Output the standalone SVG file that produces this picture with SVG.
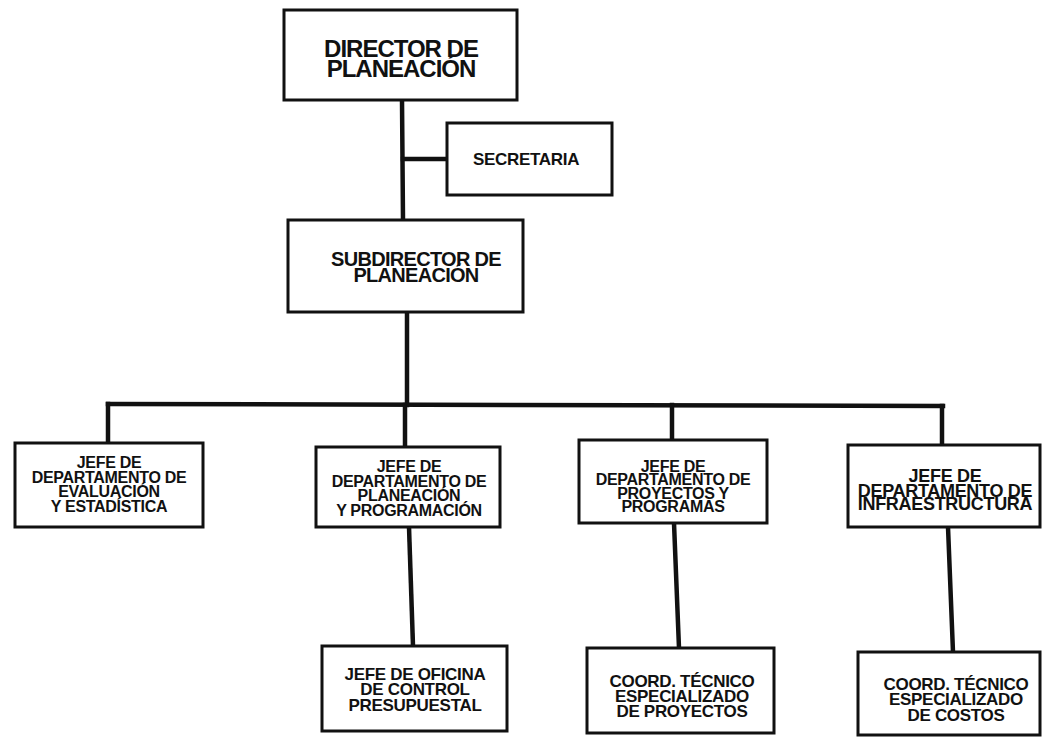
<svg xmlns="http://www.w3.org/2000/svg" width="1043" height="737" viewBox="0 0 1043 737">
<style>
.box{fill:#ffffff;stroke:#111111;stroke-width:3}
.ln{stroke:#111111;stroke-width:4.5;fill:none;stroke-linecap:square}
text{font-family:"Liberation Sans",Arial,sans-serif;font-weight:bold;fill:#111111;text-anchor:middle}
.t16{font-size:16px;letter-spacing:-0.3px}
.t17{font-size:17px;letter-spacing:-0.3px}
.t18{font-size:18px;letter-spacing:-0.3px}
</style>
<rect x="0" y="0" width="1043" height="737" fill="#ffffff"/>
<g id="connectors">
<line class="ln" x1="402" y1="100" x2="403" y2="220"/>
<line class="ln" x1="403" y1="159" x2="447" y2="159"/>
<line class="ln" x1="407" y1="312" x2="407" y2="405"/>
<line class="ln" x1="108" y1="404" x2="943" y2="406"/>
<line class="ln" x1="108" y1="404" x2="108" y2="443"/>
<line class="ln" x1="405" y1="405" x2="405" y2="447"/>
<line class="ln" x1="672" y1="405" x2="672" y2="440"/>
<line class="ln" x1="942" y1="406" x2="942" y2="445"/>
<line class="ln" x1="409" y1="527" x2="413" y2="646"/>
<line class="ln" x1="674" y1="523" x2="679" y2="648"/>
<line class="ln" x1="948" y1="527" x2="953" y2="652"/>
</g>
<g id="director">
<rect class="box" x="284" y="10" width="233" height="90"/>
<text x="401" y="57" style="font-size:24px;letter-spacing:-1px">DIRECTOR DE</text>
<text x="401" y="77" style="font-size:24px;letter-spacing:-1px">PLANEACIÓN</text>
</g>
<g id="secretaria">
<rect class="box" x="447" y="123" width="165" height="72"/>
<text class="t17" x="526" y="165">SECRETARIA</text>
</g>
<g id="subdirector">
<rect class="box" x="288" y="220" width="235" height="92"/>
<text x="416" y="266" style="font-size:20px;letter-spacing:-0.7px">SUBDIRECTOR DE</text>
<text x="416" y="282" style="font-size:20px;letter-spacing:-0.7px">PLANEACIÓN</text>
</g>
<g id="jefe-evaluacion">
<rect class="box" x="15" y="443" width="188" height="84"/>
<text class="t16" x="109" y="468">JEFE DE</text>
<text class="t16" x="109" y="482.5">DEPARTAMENTO DE</text>
<text class="t16" x="109" y="497">EVALUACIÓN</text>
<text class="t16" x="109" y="511.5">Y ESTADÍSTICA</text>
</g>
<g id="jefe-planeacion">
<rect class="box" x="316" y="447" width="184" height="80"/>
<text class="t16" x="409" y="472">JEFE DE</text>
<text class="t16" x="409" y="486.5">DEPARTAMENTO DE</text>
<text class="t16" x="409" y="501">PLANEACIÓN</text>
<text class="t16" x="409" y="515.5">Y PROGRAMACIÓN</text>
</g>
<g id="jefe-proyectos">
<rect class="box" x="579" y="440" width="188" height="83"/>
<text class="t16" x="673" y="471.5">JEFE DE</text>
<text class="t16" x="673" y="485">DEPARTAMENTO DE</text>
<text class="t16" x="673" y="498.5">PROYECTOS Y</text>
<text class="t16" x="673" y="512">PROGRAMAS</text>
</g>
<g id="jefe-infraestructura">
<rect class="box" x="848" y="445" width="192" height="82"/>
<text class="t18" x="945" y="482">JEFE DE</text>
<text class="t18" x="945" y="496.5">DEPARTAMENTO DE</text>
<text class="t18" x="945" y="510">INFRAESTRUCTURA</text>
</g>
<g id="jefe-oficina">
<rect class="box" x="322" y="646" width="185" height="85"/>
<text class="t17" x="415" y="680">JEFE DE OFICINA</text>
<text class="t17" x="415" y="695">DE CONTROL</text>
<text class="t17" x="415" y="711">PRESUPUESTAL</text>
</g>
<g id="coord-proyectos">
<rect class="box" x="587" y="648" width="187" height="85"/>
<text class="t17" x="682" y="687">COORD. TÉCNICO</text>
<text class="t17" x="682" y="702">ESPECIALIZADO</text>
<text class="t17" x="682" y="717">DE PROYECTOS</text>
</g>
<g id="coord-costos">
<rect class="box" x="858" y="652" width="182" height="83"/>
<text class="t17" x="956" y="690">COORD. TÉCNICO</text>
<text class="t17" x="956" y="705">ESPECIALIZADO</text>
<text class="t17" x="956" y="721">DE COSTOS</text>
</g>
</svg>
